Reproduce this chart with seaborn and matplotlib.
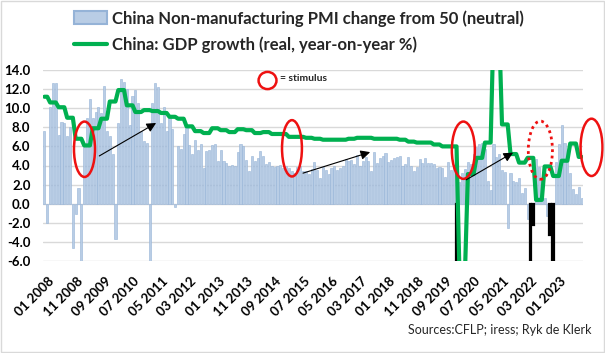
import numpy as np
import pandas as pd
import matplotlib
matplotlib.use("Agg")
import matplotlib.pyplot as plt
import matplotlib.transforms as mtransforms
from matplotlib.patches import Ellipse, Patch, Rectangle
from matplotlib.lines import Line2D
import seaborn as sns

# ---------------- data ----------------
months = pd.date_range("2008-01-01", periods=190, freq="MS").strftime("%m %Y").tolist()

# China non-manufacturing PMI minus 50 (monthly)
pmi_2008 = [7.6, -2.0, 10.1, 12.6, 12.6, 7.2, 8.6, 8.4, 7.1, 8.0, -4.6, -1.1]
pmi_2009 = [1.6, -6.5, 5.9, 9.0, 11.0, 9.0, 9.6, 10.1, 9.5, 12.3, 7.6, 7.1]
pmi_2010 = [5.2, -3.7, 8.5, 13.1, 12.7, 12.0, 8.2, 11.3, 11.9, 10.5, 7.6, 6.6]
pmi_2011 = [6.4, -6.5, 10.5, 12.6, 12.2, 8.4, 10.1, 7.6, 9.1, 7.8, -0.3, 6.0]
pmi_2012 = [5.7, 7.3, 8.0, 6.1, 5.2, 6.7, 5.6, 6.3, 3.7, 5.5, 5.6, 6.1]
pmi_2013 = [6.2, 4.5, 5.6, 4.5, 4.3, 3.9, 4.1, 3.9, 5.4, 6.3, 6.0, 4.6]
pmi_2014 = [3.4, 5.0, 4.5, 4.8, 5.5, 5.0, 4.2, 4.4, 4.0, 3.8, 3.9, 4.1]
pmi_2015 = [3.7, 3.9, 3.7, 3.4, 3.2, 3.8, 3.9, 3.4, 3.4, 3.1, 3.6, 4.4]
pmi_2016 = [3.5, 2.7, 3.8, 3.5, 3.1, 3.7, 3.9, 3.5, 3.7, 4.0, 4.7, 4.5]
pmi_2017 = [4.6, 4.2, 5.1, 4.0, 4.5, 4.9, 4.5, 3.4, 5.4, 4.3, 4.8, 5.0]
pmi_2018 = [5.3, 4.4, 4.6, 4.8, 4.9, 5.0, 4.0, 4.2, 4.9, 3.9, 3.4, 3.8]
pmi_2019 = [4.7, 4.3, 4.8, 4.3, 4.3, 4.2, 3.7, 3.8, 3.7, 2.8, 4.4, 3.5]
pmi_2020 = [4.1, -20.4, 2.3, 3.2, 3.6, 4.4, 4.2, 5.2, 5.9, 6.2, 6.4, 5.7]
pmi_2021 = [2.4, 1.4, 6.3, 4.9, 5.2, 3.5, 3.3, -2.5, 3.2, 2.4, 2.3, 2.7]
pmi_2022 = [1.1, 1.6, -1.6, -8.1, -2.2, 4.7, 3.8, 2.6, 0.6, -1.3, -3.3, -8.4]
pmi_2023 = [4.4, 6.3, 8.2, 6.4, 4.5, 3.2, 1.5, 1.0, 1.7, 0.6]
pmi = (pmi_2008 + pmi_2009 + pmi_2010 + pmi_2011 + pmi_2012 + pmi_2013 + pmi_2014
       + pmi_2015 + pmi_2016 + pmi_2017 + pmi_2018 + pmi_2019 + pmi_2020 + pmi_2021
       + pmi_2022 + pmi_2023)

# China real GDP growth y/y, quarterly, 2007Q4 .. 2023Q3
gdp_quarters = [11.2,
                10.6, 10.1, 9.0, 6.8,
                6.1, 7.9, 8.9, 10.7,
                11.9, 10.3, 9.6, 9.8,
                9.7, 9.5, 9.1, 8.9,
                8.1, 7.6, 7.4, 7.9,
                7.7, 7.5, 7.8, 7.7,
                7.4, 7.5, 7.3, 7.3,
                7.0, 7.0, 6.9, 6.8,
                6.7, 6.7, 6.7, 6.8,
                6.9, 6.9, 6.8, 6.8,
                6.8, 6.7, 6.5, 6.4,
                6.4, 6.2, 6.0, 6.0,
                -6.9, 3.1, 4.8, 6.4,
                18.3, 8.3, 5.2, 4.3,
                4.8, 0.4, 3.9, 2.9,
                4.5, 6.3, 4.9]
# each quarterly print is carried on the monthly axis for three months
gdp_monthly = np.repeat(gdp_quarters, 3)[1:191]

highlight = ["02 2020", "04 2022", "05 2022", "11 2022", "12 2022"]

legend_labels = ["China Non-manufacturing PMI change from 50 (neutral)",
                 "China: GDP growth (real, year-on-year %)"]
y_ticks = [-6, -4, -2, 0, 2, 4, 6, 8, 10, 12, 14]

# stimulus markers: (month index, value, width in months, height in units, dotted)
stimulus = [(14.1, 5.7, 7.4, 5.8, False),
            (87.1, 5.8, 7.0, 5.9, False),
            (147.4, 5.6, 8.1, 6.0, False),
            (174.5, 5.6, 8.5, 6.1, True),
            (192.5, 5.9, 7.7, 6.0, False)]
arrows = [((19.3, 5.0), (39.3, 8.45)),
          ((91.0, 3.2), (114.6, 5.4)),
          ((148.4, 2.5), (164.9, 5.35))]

df = pd.DataFrame({"pos": np.arange(len(months)), "month": months,
                   "pmi": pmi, "gdp": gdp_monthly})
hl = df[df["month"].isin(highlight)]

# ---------------- plot ----------------
sns.set_theme(style="white")
plt.rcParams["font.family"] = ["Lato", "DejaVu Sans"]

W, H = 605, 353
fig = plt.figure(figsize=(W / 100, H / 100), dpi=100)
ax = fig.add_axes([43 / W, 1 - 261 / H, (583 - 43) / W, (261 - 70) / H])

bar_color = "#b9cde5"
bar_edge = "#95b3d7"
green = "#00b050"
red = "#ee1111"

sns.barplot(data=df, x="pos", y="pmi", native_scale=True, color=bar_color,
            edgecolor=bar_edge, linewidth=0.4, width=0.75, saturation=1, ax=ax, zorder=2)
sns.barplot(data=hl, x="pos", y="pmi", native_scale=True, color="black",
            edgecolor="black", linewidth=1.6, width=0.6, saturation=1, ax=ax, zorder=3)
sns.lineplot(data=df, x="pos", y="gdp", color=green, linewidth=3.0, ax=ax, zorder=4)

ax.set_xlim(-0.5, len(months) - 0.5)
ax.set_ylim(-6, 14)
ax.set_xlabel("")
ax.set_ylabel("")
for s in ax.spines.values():
    s.set_visible(False)
ax.set_axisbelow(True)
ax.yaxis.grid(True, color="#d9d9d9", linewidth=1.0)
ax.xaxis.grid(False)

ax.set_yticks(y_ticks)
ax.set_yticklabels([f"{v:.1f}" for v in y_ticks], fontsize=9.5, fontweight="bold")
tick_pos = list(range(0, len(months), 10))[:19]
ax.set_xticks(tick_pos)
ax.set_xticklabels([months[p] for p in tick_pos], fontsize=9.5, fontweight="bold",
                   rotation=45, ha="right", va="top", rotation_mode="anchor")
ax.tick_params(axis="both", length=0, colors="black")
ax.tick_params(axis="y", pad=9)
ax.tick_params(axis="x", pad=10)
offset = mtransforms.ScaledTranslation(3.5 / 100, 0, fig.dpi_scale_trans)
for lab in ax.get_xticklabels():
    lab.set_transform(lab.get_transform() + offset)

# stimulus ellipses
for cx, cy, w, h, dotted in stimulus:
    e = Ellipse((cx, cy), w, h, fill=False, edgecolor=red,
                linewidth=2.0 if dotted else 1.8,
                linestyle=(0, (1, 1.3)) if dotted else "-",
                zorder=6, clip_on=False)
    ax.add_patch(e)

# legend ellipse for stimulus
ax.add_patch(Ellipse((78.5, 12.9), 6.3, 1.8, fill=False, edgecolor=red,
                     linewidth=1.8, zorder=6))
ax.text(83.0, 13.15, "= stimulus", fontsize=7.5, fontweight="bold",
        va="center", ha="left", zorder=6)

for start, end in arrows:
    ax.annotate("", xy=end, xytext=start,
                arrowprops=dict(arrowstyle="-|>", color="black", lw=0.8,
                                mutation_scale=14, shrinkA=0, shrinkB=0),
                zorder=7)

handles = [Patch(facecolor=bar_color, edgecolor=bar_edge, linewidth=1.5),
           Line2D([], [], color=green, linewidth=3)]
fig.legend(handles, legend_labels, loc="upper left",
           bbox_to_anchor=(74 / W, 1 - 10 / H), frameon=False,
           prop=dict(weight="bold", size=12), handlelength=1.95,
           handleheight=0.8, handletextpad=0.3, labelspacing=0.62,
           borderpad=0, borderaxespad=0)

fig.text(592 / W, 1 - 330 / H, "Sources:CFLP; iress; Ryk de Klerk",
         ha="right", va="center", fontsize=9)

fig.add_artist(Rectangle((0.001, 0.002), 0.997, 0.996, transform=fig.transFigure,
                         fill=False, edgecolor="#d9d9d9", linewidth=1))

fig.savefig("out.png", dpi=100)
